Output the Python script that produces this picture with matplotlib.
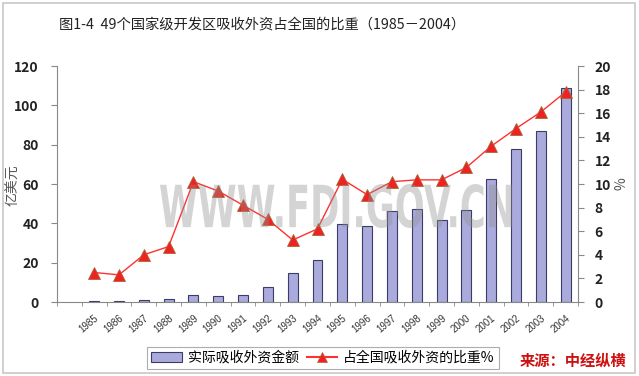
import matplotlib
matplotlib.use("Agg")
import matplotlib.pyplot as plt
import numpy as np
from matplotlib.patches import Rectangle, Patch, PathPatch
from matplotlib.lines import Line2D
from matplotlib.textpath import TextPath
from matplotlib.font_manager import FontProperties
from matplotlib.transforms import Affine2D

plt.rcParams['font.family'] = ['Noto Sans CJK SC', 'DejaVu Sans']

years = ["1985", "1986", "1987", "1988", "1989", "1990", "1991", "1992", "1993", "1994",
         "1995", "1996", "1997", "1998", "1999", "2000", "2001", "2002", "2003", "2004"]
amount = [0.3, 0.5, 1.0, 1.7, 3.4, 3.0, 3.4, 7.6, 14.7, 21.4,
          39.5, 38.5, 46.5, 47.5, 41.9, 46.6, 62.5, 77.8, 86.8, 108.8]
share = [2.5, 2.3, 4.0, 4.7, 10.2, 9.4, 8.2, 7.0, 5.25, 6.2,
         10.4, 9.1, 10.2, 10.35, 10.35, 11.4, 13.2, 14.7, 16.1, 17.8]

title = "图1-4  49个国家级开发区吸收外资占全国的比重（1985－2004）"
bar_label = "实际吸收外资金额"
line_label = "占全国吸收外资的比重%"
source = "来源：中经纵横"
watermark = "WWW.FDI.GOV.CN"

W, H = 639, 376
fig = plt.figure(figsize=(W / 100, H / 100), dpi=100)
fig.patch.set_facecolor("white")
fig.add_artist(Rectangle((0.004, 0.008), 0.99, 0.985, transform=fig.transFigure,
                         fill=False, edgecolor="#c8c8c8", linewidth=1.2))

ax = fig.add_axes([57 / W, 1 - 302 / H, (578 - 57) / W, (302 - 66) / H])
x = np.arange(len(years))
ax.bar(x, amount, width=0.4, color="#aaaadc", edgecolor="#3c3c6a", linewidth=0.8, zorder=2)
ax.set_ylim(0, 120)
ax.set_yticks(np.arange(0, 121, 20))
ax.set_xlim(-1.5, len(years) - 0.5)
ax.set_xticks(x)
ax.set_xticklabels(years, rotation=40, ha="right", rotation_mode="anchor", fontsize=7,
                   color="#333333", family="Liberation Sans")
ax.tick_params(axis="x", length=0, pad=8)
ax.set_xticks(np.arange(-1.5, len(years), 1), minor=True)
ax.tick_params(axis="x", which="minor", length=3, color="#888888")
ax.tick_params(axis="y", labelsize=10, colors="#222222", length=4, color="#888888", pad=9)
for lab in ax.get_yticklabels():
    lab.set_fontweight("bold")
for s in ["top", "right"]:
    ax.spines[s].set_visible(False)
for s in ["left", "bottom"]:
    ax.spines[s].set_color("#888888")

ax2 = ax.twinx()
ax2.plot(x, share, color="#ff3030", linewidth=1.0, marker="^", markersize=9,
         markerfacecolor="#ee2222", markeredgecolor="#aa6633", markeredgewidth=0.6, zorder=5)
ax2.set_ylim(0, 20)
ax2.set_yticks(np.arange(0, 21, 2))
ax2.tick_params(axis="y", labelsize=10, colors="#222222", length=4, color="#888888", pad=8)
for lab in ax2.get_yticklabels():
    lab.set_fontweight("bold")
for s in ["top", "left", "bottom"]:
    ax2.spines[s].set_visible(False)
ax2.spines["right"].set_color("#888888")

fig.text(13 / W, 1 - 185 / H, "亿美元", rotation=90, ha="center", va="center",
         fontsize=10, color="#555555")
fig.text(621 / W, 1 - 184 / H, "%", rotation=90, ha="center", va="center",
         fontsize=10, color="#555555")

# watermark scaled into a target box (pixel coords from top-left)
tp = TextPath((0, 0), watermark, size=50,
              prop=FontProperties(family="DejaVu Sans", weight="bold"))
ext = tp.get_extents()
x0, x1, ytop, ybot = 160, 512, 184, 228
sx = (x1 - x0) / ext.width
sy = (ybot - ytop) / ext.height
tr = Affine2D().translate(-ext.x0, -ext.y0).scale(sx, sy).translate(x0, H - ybot)
wm = PathPatch(tr.transform_path(tp), facecolor="#909090", edgecolor="none", alpha=0.38,
               transform=None, zorder=10)
fig.add_artist(wm)

fig.text(262 / W, 1 - 25 / H, title, ha="center", va="center", fontsize=10.3, color="#222222")

handles = [Patch(facecolor="#aaaadc", edgecolor="#3c3c6a", linewidth=0.8),
           Line2D([0], [0], color="#ff3030", marker="^", markersize=7,
                  markerfacecolor="#ee2222", markeredgecolor="#aa6633", markeredgewidth=0.5)]
leg = fig.legend(handles, [bar_label, line_label], loc="center",
                 bbox_to_anchor=(323 / W, 1 - 358 / H), ncol=2, fontsize=10,
                 frameon=True, fancybox=False, edgecolor="#999999", handlelength=2.2,
                 columnspacing=0.6, handletextpad=0.4, borderpad=0.3)
leg.get_frame().set_linewidth(0.8)

fig.text(573 / W, 1 - 361 / H, source, ha="center", va="center", fontsize=11,
         color="#cc1111", fontweight="bold", style="italic")

fig.savefig("out.png", dpi=100)
